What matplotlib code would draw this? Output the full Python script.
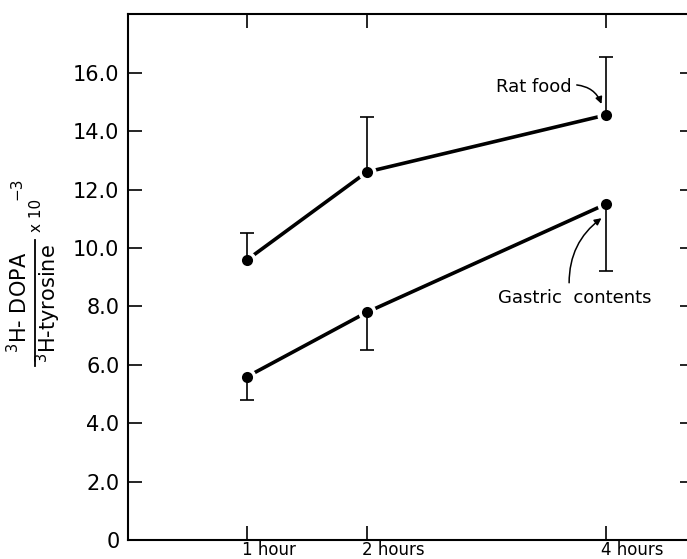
import numpy as np
import matplotlib
matplotlib.use("Agg")
import matplotlib.pyplot as plt
from matplotlib.lines import Line2D
import matplotlib.transforms as mtransforms

# data
hours = [1, 2, 4]
hour_labels = ["1 hour", "2 hours", "4 hours"]
rat_food = [9.6, 12.6, 14.55]
rat_food_upper = [10.5, 14.5, 16.55]
gastric = [5.6, 7.8, 11.5]
gastric_lower = [4.8, 6.5, 9.2]
yticks = [0, 2, 4, 6, 8, 10, 12, 14, 16]
ytick_labels = ["0", "2.0", "4.0", "6.0", "8.0", "10.0", "12.0", "14.0", "16.0"]

W, H = 687, 559
fig = plt.figure(figsize=(W / 100, H / 100), dpi=100)
ax = fig.add_axes([127.8 / W, 1 - 540.2 / H, 4.74 * 119.5 / W, 18 * 29.22 / H])
ax.set_xlim(0, 4.74)
ax.set_ylim(0, 18)

for sp in ax.spines.values():
    sp.set_linewidth(1.5)

def draw_series(y, bar_end):
    ax.plot(hours, y, color="black", lw=2.6, solid_capstyle="butt", zorder=1)
    # white halo so the line stops short of each dot
    ax.plot(hours, y, "o", ms=13, color="white", mec="none", zorder=2)
    # one-sided error bars, cap only at the far end
    ax.vlines(hours, y, bar_end, color="black", lw=1.2, zorder=3)
    ax.plot(hours, bar_end, ls="none", marker="_", ms=10.5, mew=1.2,
            color="black", zorder=3)
    ax.plot(hours, y, "o", ms=8, color="black", mec="none", zorder=4)

draw_series(rat_food, rat_food_upper)
draw_series(gastric, gastric_lower)

ax.set_yticks(yticks)
ax.set_yticklabels(ytick_labels, fontsize=15)
ax.set_xticks(hours)
ax.set_xticklabels(hour_labels, fontsize=12)
ax.tick_params(axis="both", direction="in", length=10, width=1.2,
               top=True, right=True)
ax.tick_params(axis="y", pad=6)
ax.tick_params(axis="x", pad=10.6)
shift = mtransforms.ScaledTranslation(-0.05, 0, fig.dpi_scale_trans)
for lab in ax.get_xticklabels():
    lab.set_ha("left")
    lab.set_va("baseline")
    lab.set_transform(lab.get_transform() + shift)

# annotations
ax.text(3.716, 15.34, "Rat food", fontsize=13, ha="right", va="baseline")
ax.annotate("", xy=(3.964, 14.93), xytext=(3.757, 15.58),
            arrowprops=dict(arrowstyle="-|>", connectionstyle="arc3,rad=-0.3",
                            color="black", lw=1.1, mutation_scale=10,
                            shrinkA=0, shrinkB=0))
ax.text(3.736, 8.12, "Gastric  contents", fontsize=13, ha="center", va="baseline")
ax.annotate("", xy=(3.964, 11.02), xytext=(3.693, 8.81),
            arrowprops=dict(arrowstyle="-|>", connectionstyle="arc3,rad=-0.25",
                            color="black", lw=1.1, mutation_scale=10,
                            shrinkA=0, shrinkB=0))

# y label built as a fraction
def fx(px):
    return px / W

def fy(py):
    return 1 - py / H

fig.text(fx(27), fy(302), r"$^{3}$H- DOPA", fontsize=15, rotation=90,
         rotation_mode="anchor", ha="center", va="baseline")
fig.text(fx(56), fy(304), r"$^{3}$H-tyrosine", fontsize=15, rotation=90,
         rotation_mode="anchor", ha="center", va="baseline")
fig.add_artist(Line2D([fx(35), fx(35)], [fy(240), fy(366)], color="black",
                      lw=1.3, transform=fig.transFigure))
fig.text(fx(41), fy(232), "x 10", fontsize=11, rotation=90,
         rotation_mode="anchor", ha="left", va="baseline")
fig.text(fx(21), fy(200), "\u22123", fontsize=11, rotation=90,
         rotation_mode="anchor", ha="left", va="baseline")

fig.savefig("out.png", dpi=100)
